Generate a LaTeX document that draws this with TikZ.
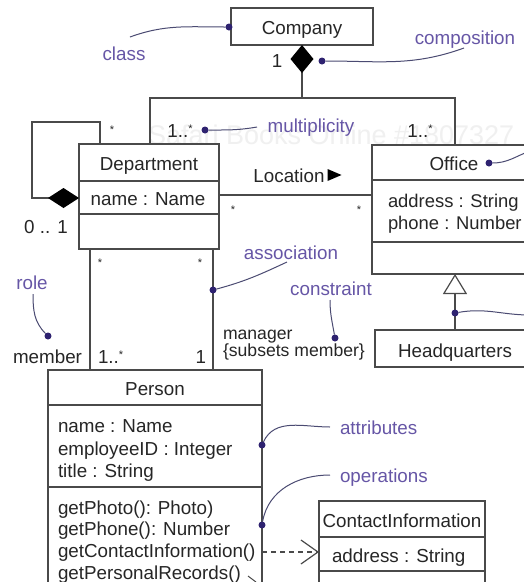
\documentclass[tikz,border=0pt]{standalone}
\usepackage{fontspec}
\setmainfont{Liberation Sans}
\usetikzlibrary{arrows.meta}
\definecolor{umlline}{HTML}{4A4A4A}
\definecolor{umltext}{HTML}{262626}
\definecolor{notetext}{HTML}{6656A6}
\definecolor{notedot}{HTML}{2E2270}
\definecolor{notecurve}{HTML}{4B4B72}
\newcommand\umlstar{\raisebox{5pt}{\fontsize{11}{11}\selectfont *}}
\begin{document}
\begin{tikzpicture}[x=1pt,y=-1pt,
  every node/.style={inner sep=0pt,outer sep=0pt},
  box/.style={draw=umlline,line width=1.2pt,anchor=north west},
  conn/.style={draw=umlline,line width=1.2pt},
  txt/.style={font=\fontsize{18.8}{22}\selectfont,text=umltext,yshift=-4.5pt},
  attr/.style={font=\fontsize{18.4}{22}\selectfont,text=umltext,yshift=-4.5pt},
  small/.style={font=\fontsize{17.6}{20}\selectfont,text=umltext,yshift=-4.5pt},
  lbl/.style={font=\fontsize{18.8}{22}\selectfont,text=notetext,yshift=-4.5pt},
  mult/.style={font=\fontsize{11}{11}\selectfont,text=umltext,yshift=-4pt},
  dot/.style={circle,fill=notedot,minimum size=7pt},
  note/.style={draw=notecurve,line width=1pt}]
\useasboundingbox (0,0) rectangle (524,582);
\clip (0,0) rectangle (524,582);
\fill[white] (0,0) rectangle (524,582);

% faint watermark
\node[anchor=mid west,font=\fontsize{27}{30}\selectfont,text=black!6,yshift=-5pt] (wm) at (148,137) {Safari Books Online \#1807327};

% ---------- classes ----------
\node[box,minimum width=142pt,minimum height=37pt] (company) at (231,8) {};
\node[txt,anchor=mid] (companyname) at (302,27) {Company};

\node[box,minimum width=140pt,minimum height=105pt] (dept) at (79,144) {};
\node[txt,anchor=mid] (deptname) at (149,163) {Department};
\node[txt,anchor=mid] (deptattr) at (148,198) {name : Name};
\draw[conn] (dept.west |- 0,181) -- (dept.east |- 0,181);
\draw[conn] (dept.west |- 0,214) -- (dept.east |- 0,214);

\node[box,minimum width=166pt,minimum height=129pt] (office) at (372,145) {};
\node[txt,anchor=mid] (officename) at (454,163) {Office};
\node[attr,anchor=mid west] (officeaddr) at (388,200) {address : String};
\node[attr,anchor=mid west] (officephone) at (388,222) {phone : Number};
\draw[conn] (office.west |- 0,180) -- (office.east |- 0,180);
\draw[conn] (office.west |- 0,242) -- (office.east |- 0,242);

\node[box,minimum width=160pt,minimum height=37pt] (hq) at (375,330) {};
\node[txt,anchor=mid] (hqname) at (455,350) {Headquarters};

\node[box,minimum width=214pt,minimum height=240pt] (person) at (48,370) {};
\node[txt,anchor=mid] (personname) at (155,388) {Person};
\draw[conn] (person.west |- 0,405) -- (person.east |- 0,405);
\draw[conn] (person.west |- 0,487) -- (person.east |- 0,487);
\node[txt,anchor=mid west] (pa1) at (58,425) {name : Name};
\node[txt,anchor=mid west] (pa2) at (58,448) {employeeID : Integer};
\node[txt,anchor=mid west] (pa3) at (58,470) {title : String};
\node[txt,anchor=mid west] (po1) at (58,507) {getPhoto(): Photo)};
\node[txt,anchor=mid west] (po2) at (58,528) {getPhone(): Number};
\node[txt,anchor=mid west] (po3) at (58,550) {getContactInformation()};
\node[txt,anchor=mid west] (po4) at (58,572) {getPersonalRecords()};

\node[box,minimum width=166pt,minimum height=110pt] (contact) at (319,501) {};
\node[txt,anchor=mid] (contactname) at (402,520) {ContactInformation};
\node[txt,anchor=mid west] (contactaddr) at (332,555) {address : String};
\draw[conn] (contact.west |- 0,537) -- (contact.east |- 0,537);
\draw[conn] (contact.west |- 0,571) -- (contact.east |- 0,571);

% ---------- composition Company -> Department / Office ----------
\coordinate (jl) at (150,98);
\coordinate (jc) at (302,98);
\coordinate (jr) at (455,98);
\draw[conn] (dept.north -| jl) -- (jl) -- (jr) -- (office.north -| jr);
\draw[conn,-{Diamond[length=28pt,width=23pt,color=black]}] (jc) -- (company.south);
\node[txt,anchor=mid] (m1) at (277,60) {1};
\node[txt,anchor=mid] (m2) at (180,130) {1..\umlstar};
\node[txt,anchor=mid] (m3) at (420,130) {1..\umlstar};

% ---------- reflexive composition on Department ----------
\coordinate (la) at (32,198);
\coordinate (lb) at (32,122);
\coordinate (lc) at (100,122);
\draw[conn,{Diamond[length=31pt,width=20pt,color=black]}-] (dept.west |- la) -- (la) -- (lb) -- (lc) -- (dept.north -| lc);
\node[mult,anchor=mid] (m4) at (112,127) {*};
\node[txt,anchor=mid] (m5) at (46,226) {0 .. 1};

% ---------- Location association ----------
\coordinate (loca) at (0,195);
\draw[conn] (dept.east |- loca) -- (office.west |- loca);
\node[txt,anchor=mid] (loc) at (289,175) {Location};
\fill[black] ([xshift=3pt,yshift=-1.5pt]loc.mid east) -- ++(14,-6) -- ++(-14,-6) -- cycle;
\node[mult,anchor=mid] (m6) at (233,207) {*};
\node[mult,anchor=mid] (m7) at (359,207) {*};

% ---------- generalization ----------
\draw[conn,-{Triangle[open,length=20pt,width=24pt,line width=1.2pt]}] (hq.north) -- (office.south);

% ---------- member / manager associations ----------
\coordinate (ma) at (90,0);
\coordinate (mb) at (213,0);
\draw[conn] (dept.south -| ma) -- (person.north -| ma);
\draw[conn] (dept.south -| mb) -- (person.north -| mb);
\node[mult,anchor=mid] (m8) at (100,260) {*};
\node[mult,anchor=mid] (m9) at (200,260) {*};
\node[txt,anchor=mid east] (member) at (82,356) {member};
\node[txt,anchor=mid west] (m10) at (98,356) {1..\umlstar};
\node[txt,anchor=mid east] (m11) at (206,356) {1};
\node[small,anchor=mid west] (manager) at (223,332) {manager};
\node[small,anchor=mid west] (subsets) at (223,349) {\{subsets member\}};

% ---------- dependency ----------
\coordinate (dep) at (0,552);
\draw[conn,dashed,dash pattern=on 5pt off 4pt,-{Straight Barb[length=17pt,width=24pt,line width=1.2pt]}] (person.east |- dep) -- (contact.west |- dep);
\coordinate (pra) at (248,576);
\coordinate (prb) at (256,582);
\draw[conn,line width=1pt] (pra) -- (prb);

% ---------- annotations ----------
\node[lbl,anchor=mid] (tclass) at (124,53) {class};
\node[dot] (dclass) at (229,27) {};
\coordinate (eclass) at (130,37);
\draw[note] (eclass) to[out=20,in=180] (dclass);

\node[lbl,anchor=mid] (tcomp) at (465,37) {composition};
\node[dot] (dcomp) at (322,61) {};
\coordinate (ecomp) at (464,48);
\draw[note] (dcomp) to[out=0,in=200] (ecomp);

\node[lbl,anchor=mid] (tmult) at (311,125) {multiplicity};
\node[dot] (dmult) at (205,130) {};
\coordinate (emult) at (257,127);
\draw[note] (dmult) to[out=0,in=190] (emult);

\node[dot] (doffice) at (489,163) {};
\coordinate (eoffice) at (530,151);
\draw[note] (doffice) to[out=0,in=200] (eoffice);

\node[dot] (dgen) at (455,313) {};
\coordinate (egen) at (530,315);
\draw[note] (dgen) to[out=10,in=180] (egen);

\node[lbl,anchor=mid] (tassoc) at (291,252) {association};
\node[dot] (dassoc) at (213,290) {};
\coordinate (eassoc) at (287,262);
\draw[note] (dassoc) to[out=15,in=205] (eassoc);

\node[lbl,anchor=mid] (tcons) at (331,288) {constraint};
\node[dot] (dcons) at (335,338) {};
\coordinate (econs) at (330,300);
\draw[note] (econs) to[out=-90,in=100] (dcons);

\node[lbl,anchor=mid] (trole) at (32,282) {role};
\node[dot] (drole) at (48,336) {};
\coordinate (erole) at (33,294);
\draw[note] (erole) to[out=-90,in=135] (drole);

\node[lbl,anchor=mid west] (tattr) at (340,427) {attributes};
\node[dot] (dattr) at (262,445) {};
\coordinate (eattr) at (330,427);
\draw[note] (dattr) to[out=65,in=180] (eattr);

\node[lbl,anchor=mid west] (tops) at (340,475) {operations};
\node[dot] (dops) at (262,525) {};
\coordinate (eops) at (330,475);
\draw[note] (dops) to[out=80,in=180] (eops);
\end{tikzpicture}
\end{document}
